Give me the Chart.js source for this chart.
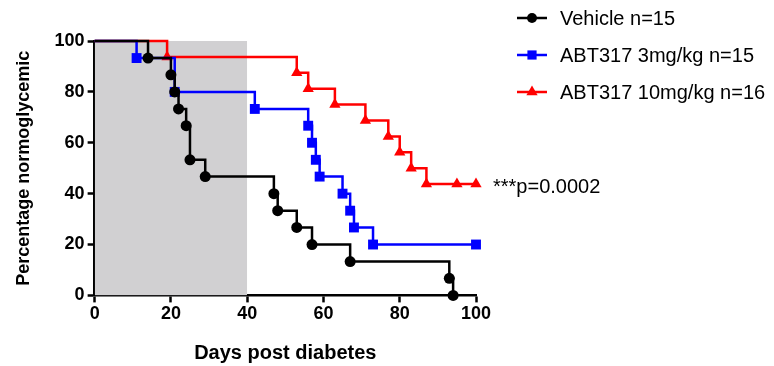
<!DOCTYPE html>
<html>
<head>
<meta charset="utf-8">
<script src="https://cdn.jsdelivr.net/npm/chart.js@4.4.1/dist/chart.umd.min.js"></script>
<style>
  html, body { margin: 0; padding: 0; background: #fff; }
  #wrap { width: 774px; height: 366px; }
</style>
</head>
<body>
<div id="wrap"><canvas id="survivalChart"></canvas></div>
<script>
// Kaplan-Meier curves, values

const seriesNames = ['Vehicle n=15', 'ABT317 3mg/kg n=15', 'ABT317 10mg/kg n=16'];

const vehicleDays = [0, 14, 20, 21, 22, 24, 25, 29, 47, 48, 53, 57, 67, 93, 94];
const vehiclePct = [100, 93.3, 86.7, 80, 73.3, 66.7, 53.3, 46.7, 40, 33.3, 26.7, 20, 13.3, 6.7, 0];

const lowDoseDays = [0, 11, 21, 42, 56, 57, 58, 59, 65, 67, 68, 73, 100];
const lowDosePct = [100, 93.3, 80, 73.3, 66.7, 60, 53.3, 46.7, 40, 33.3, 26.7, 20, 20];

const highDoseDays = [0, 19, 53, 56, 63, 71, 77, 80, 83, 87, 95, 100];
const highDosePct = [100, 93.75, 87.5, 81.25, 75, 68.75, 62.5, 56.25, 50, 43.75, 43.75, 43.75];

// grey window (treatment period)
const shadeDays = [0, 40];
const shadePct = [100, 100];

const xTicks = [0, 20, 40, 60, 80, 100];
const yTicks = [0, 20, 40, 60, 80, 100];

const pValueLabel = '***p=0.0002';
const pValueAt = 43.75;

const toPoints = (xs, ys) => xs.map((x, i) => ({ x: x, y: ys[i] }));

const FONT = '"Liberation Sans", Arial, Helvetica, sans-serif';

// no marker at the starting point of each curve
const hideFirst = r => ctx => ctx.dataIndex === 0 ? 0 : r;

function drawMarker(ctx, style, x, y, r, color) {
  ctx.fillStyle = color;
  ctx.beginPath();
  if (style === 'circle') {
    ctx.arc(x, y, r, 0, Math.PI * 2);
  } else if (style === 'rect') {
    const s = Math.SQRT1_2 * r;
    ctx.rect(x - s, y - s, 2 * s, 2 * s);
  } else {
    ctx.moveTo(x, y - r);
    ctx.lineTo(x + r * Math.sin(Math.PI / 3), y + r / 2);
    ctx.lineTo(x - r * Math.sin(Math.PI / 3), y + r / 2);
    ctx.closePath();
  }
  ctx.fill();
}

const sideLegend = {
  id: 'sideLegend',
  afterDraw(chart) {
    const ctx = chart.ctx;
    const left = chart.chartArea.right + 41;
    ctx.save();
    ctx.font = '20px ' + FONT;
    ctx.textBaseline = 'middle';
    seriesNames.forEach((name, i) => {
      const ds = chart.data.datasets[i];
      const y = 18 + i * 37;
      ctx.strokeStyle = ds.borderColor;
      ctx.lineWidth = 2.5;
      ctx.beginPath();
      ctx.moveTo(left, y);
      ctx.lineTo(left + 30, y);
      ctx.stroke();
      drawMarker(ctx, ds.pointStyle, left + 15, y, ds.legendRadius, ds.borderColor);
      ctx.fillStyle = '#000';
      ctx.fillText(name, left + 43, y + 1);
    });

    // p value next to the end of the curves
    const xs = chart.scales.x, ys = chart.scales.y;
    ctx.fillText(pValueLabel, xs.getPixelForValue(100) + 17, ys.getPixelForValue(pValueAt) + 3);
    ctx.restore();
  }
};

const ctx = document.getElementById('survivalChart').getContext('2d');

new Chart(ctx, {
  type: 'line',
  data: {
    datasets: [
      {
        label: seriesNames[0],
        data: toPoints(vehicleDays, vehiclePct),
        stepped: true,
        borderColor: '#000000',
        backgroundColor: '#000000',
        borderWidth: 2.5,
        pointStyle: 'circle',
        pointRadius: hideFirst(5.5),
        legendRadius: 5,
        pointBorderWidth: 0,
        fill: false,
        clip: false
      },
      {
        label: seriesNames[1],
        data: toPoints(lowDoseDays, lowDosePct),
        stepped: true,
        borderColor: '#0000ff',
        backgroundColor: '#0000ff',
        borderWidth: 2.5,
        pointStyle: 'rect',
        pointRadius: hideFirst(7),
        legendRadius: 6.5,
        pointBorderWidth: 0,
        fill: false,
        clip: false
      },
      {
        label: seriesNames[2],
        data: toPoints(highDoseDays, highDosePct),
        stepped: true,
        borderColor: '#ff0000',
        backgroundColor: '#ff0000',
        borderWidth: 2.5,
        pointStyle: 'triangle',
        pointRadius: hideFirst(6.5),
        legendRadius: 6.5,
        pointBorderWidth: 0,
        fill: false,
        clip: false
      },
      {
        label: 'shade',
        data: toPoints(shadeDays, shadePct),
        borderWidth: 0,
        pointRadius: 0,
        backgroundColor: '#d1d0d2',
        fill: 'origin',
        clip: false
      }
    ]
  },
  plugins: [sideLegend],
  options: {
    responsive: true,
    maintainAspectRatio: false,
    animation: false,
    layout: {
      padding: { left: 2, right: 298, top: 41, bottom: 0 }
    },
    plugins: {
      legend: { display: false },
      tooltip: { enabled: false }
    },
    scales: {
      x: {
        type: 'linear',
        min: 0,
        max: 100,
        afterBuildTicks: s => { s.ticks = xTicks.map(v => ({ value: v })); },
        grid: {
          drawOnChartArea: false,
          drawTicks: true,
          tickLength: 7,
          tickColor: '#000',
          tickWidth: 2.5
        },
        border: { display: true, color: '#000', width: 2.5 },
        ticks: {
          color: '#000',
          padding: 1,
          maxRotation: 0,
          font: { family: FONT, size: 18, weight: 'bold' }
        },
        title: {
          display: true,
          text: 'Days post diabetes',
          color: '#000',
          padding: { top: 15, bottom: 1 },
          font: { family: FONT, size: 20, weight: 'bold' }
        }
      },
      y: {
        min: 0,
        max: 100,
        z: 1,
        afterBuildTicks: s => { s.ticks = yTicks.map(v => ({ value: v })); },
        grid: {
          drawOnChartArea: false,
          drawTicks: true,
          tickLength: 7,
          tickColor: '#000',
          tickWidth: 2.5
        },
        border: { display: true, color: '#000', width: 2.5 },
        ticks: {
          color: '#000',
          padding: 3,
          font: { family: FONT, size: 18, weight: 'bold' }
        },
        title: {
          display: true,
          text: 'Percentage normoglycemic',
          color: '#000',
          padding: { top: 11, bottom: 17 },
          font: { family: FONT, size: 18, weight: 'bold' }
        }
      }
    }
  }
});
</script>
</body>
</html>
